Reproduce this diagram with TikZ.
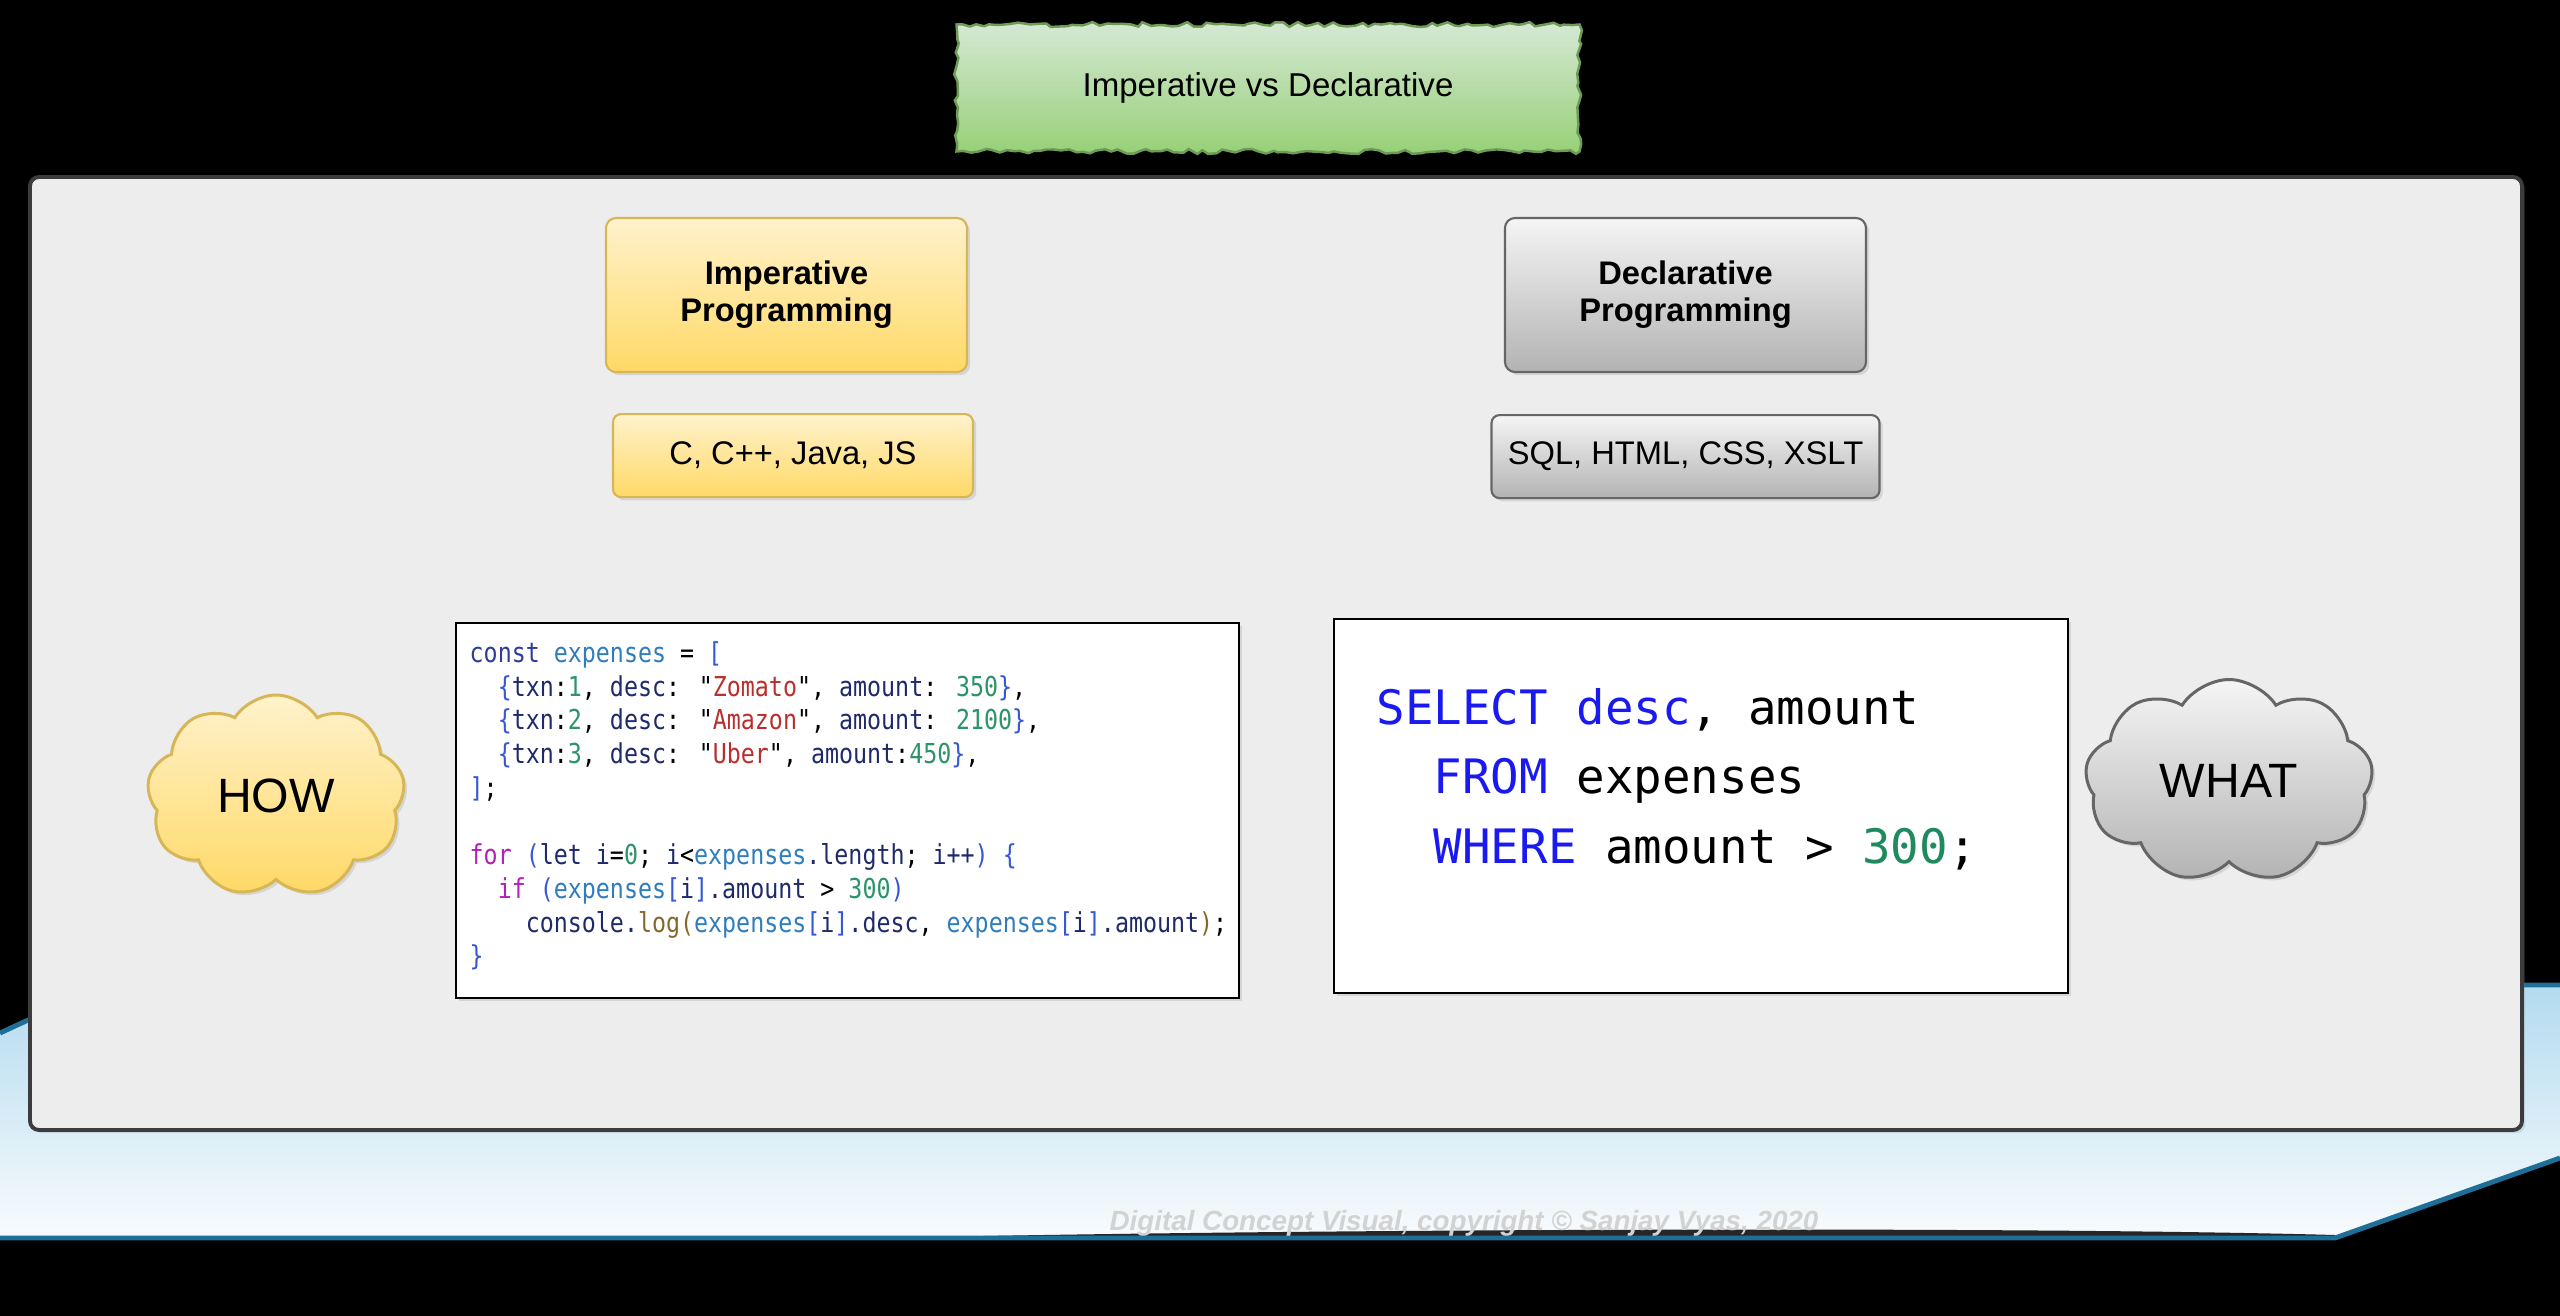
\documentclass[tikz,border=0pt]{standalone}
\usepackage{fontspec}
\setmainfont{Liberation Sans}
\newfontfamily\codefont{DejaVu Sans Mono}[FakeStretch=0.85]
\newfontfamily\sqlfont{DejaVu Sans Mono}
\usetikzlibrary{positioning,shapes.symbols,shadows,decorations.pathmorphing}

\definecolor{yelTop}{HTML}{FFF2CC}
\definecolor{yelBot}{HTML}{FFD966}
\definecolor{yelLine}{HTML}{D6B656}
\definecolor{gryTop}{HTML}{F5F5F5}
\definecolor{gryBot}{HTML}{B3B3B3}
\definecolor{gryLine}{HTML}{666666}
\definecolor{grnTop}{HTML}{D5E8D4}
\definecolor{grnBot}{HTML}{97D077}
\definecolor{grnLine}{HTML}{6E9B55}
\definecolor{panelFill}{HTML}{EDEDED}
\definecolor{panelLine}{HTML}{3C3C3E}
\definecolor{floorTop}{HTML}{B3DBEF}
\definecolor{floorBot}{HTML}{F8FBFD}
\definecolor{floorLine}{HTML}{1E6E98}
\definecolor{noteGray}{HTML}{D2D2D2}
% code colours
\definecolor{jsKey}{HTML}{B51FB9}
\definecolor{jsDecl}{HTML}{2E3C9C}
\definecolor{jsVar}{HTML}{2F7DBE}
\definecolor{jsId}{HTML}{1F2A6B}
\definecolor{jsBrk}{HTML}{3557D8}
\definecolor{jsStr}{HTML}{B8302E}
\definecolor{jsNum}{HTML}{2B9468}
\definecolor{jsFn}{HTML}{85692A}
\definecolor{sqlKey}{HTML}{1A1AF0}
\definecolor{sqlNum}{HTML}{1F8A5E}

\newcommand{\jkw}[1]{\textcolor{jsKey}{#1}}
\newcommand{\jdc}[1]{\textcolor{jsDecl}{#1}}
\newcommand{\jvar}[1]{\textcolor{jsVar}{#1}}
\newcommand{\jid}[1]{\textcolor{jsId}{#1}}
\newcommand{\jbr}[1]{\textcolor{jsBrk}{#1}}
\newcommand{\jstr}[1]{\textcolor{jsStr}{#1}}
\newcommand{\jnum}[1]{\textcolor{jsNum}{#1}}
\newcommand{\jfn}[1]{\textcolor{jsFn}{#1}}
\newcommand{\sqk}[1]{\textcolor{sqlKey}{#1}}
\newcommand{\sqn}[1]{\textcolor{sqlNum}{#1}}

\pgfmathsetseed{7}

\begin{document}
\begin{tikzpicture}[
  x=0.1mm, y=-0.1mm,
  banner/.style={draw=grnLine, line width=0.7pt, top color=grnTop, bottom color=grnBot,
                 decorate, decoration={random steps, segment length=2pt, amplitude=0.7pt},
                 minimum width=62.3mm, minimum height=12.7mm,
                 font=\fontsize{9.4}{11}\selectfont},
  yellowfill/.style={top color=yelTop, bottom color=yelBot, draw=yelLine},
  grayfill/.style={top color=gryTop, bottom color=gryBot, draw=gryLine},
  softshadow/.style={drop shadow={opacity=0.22, shadow xshift=0.9pt, shadow yshift=-0.9pt}},
  headbox/.style={softshadow, rounded corners=1mm, line width=0.6pt, align=center,
                  minimum width=36.1mm, minimum height=15.4mm,
                  font=\bfseries\fontsize{9.3}{10.6}\selectfont},
  langbox/.style={softshadow, rounded corners=0.8mm, line width=0.6pt,
                  minimum height=8.3mm, font=\fontsize{9.3}{11}\selectfont},
  codebox/.style={softshadow, draw=black, fill=white, line width=0.5pt},
  thought/.style={softshadow, cloud, cloud puffs=9, cloud puff arc=115, cloud ignores aspect,
                  line width=0.85pt, inner sep=0pt, font=\fontsize{13.7}{16}\selectfont},
  jstext/.style={anchor=north west, inner sep=0pt, align=left,
                 font={\codefont\fontsize{7.8}{9.6}\selectfont}},
  sqltext/.style={anchor=north west, inner sep=0pt, align=left,
                  font={\sqlfont\fontsize{13.5}{19.8}\selectfont}}]
\useasboundingbox (0,0) rectangle (2560,1316);
\fill[black] (0,0) rectangle (2560,1316);
% light blue floor behind the panel
\shade[top color=floorTop, bottom color=floorBot]
  (0,1033) -- (104,985) -- (2560,985) -- (2560,1158) -- (2335,1238) -- (0,1238) -- cycle;
\fill[black!85] (880,1238) .. controls (1300,1229) and (2000,1226) .. (2335,1235) -- (2335,1238) -- cycle;
\draw[floorLine, line width=1.4pt] (0,1033) -- (104,985) -- (2560,985);
\draw[floorLine, line width=1.4pt] (2560,1158) -- (2335,1238) -- (0,1238);
% main panel
\draw[softshadow, fill=panelFill, draw=panelLine, line width=1.1pt, rounded corners=0.9mm]
  (30,177) rectangle (2522,1130);

\node[banner] (title) at (1268,88) {Imperative vs Declarative};

\node[headbox, yellowfill] (imp) at (786.5,295) {Imperative\\Programming};
\node[langbox, yellowfill, minimum width=36mm, below=4mm of imp, xshift=0.65mm] (implang) {C, C++, Java, JS};
\node[headbox, grayfill] (decl) at (1685.5,295) {Declarative\\Programming};
\node[langbox, grayfill, minimum width=38.8mm, below=4.1mm of decl] (decllang) {SQL, HTML, CSS, XSLT};

\node[codebox, minimum width=78.3mm, minimum height=37.5mm] (jsbox) at (847.5,810.5) {};
\node[codebox, minimum width=73.4mm, minimum height=37.4mm] (sqlbox) at (1701,806) {};

\node[jstext] (jscode) at (469,638) {%
\strut\jdc{const} \jvar{expenses} = \jbr{[}\\
\phantom{xx}\jbr{\{}\jid{txn}:\jnum{1}, \jid{desc}: "\jstr{Zomato}", \jid{amount}: \jnum{350}\jbr{\}},\\
\phantom{xx}\jbr{\{}\jid{txn}:\jnum{2}, \jid{desc}: "\jstr{Amazon}", \jid{amount}: \jnum{2100}\jbr{\}},\\
\phantom{xx}\jbr{\{}\jid{txn}:\jnum{3}, \jid{desc}: "\jstr{Uber}", \jid{amount}:\jnum{450}\jbr{\}},\\
\jbr{]};\\[9.6pt]
\jkw{for} \jbr{(}\jid{let i}=\jnum{0}; \jid{i}<\jvar{expenses}\jid{.length}; \jid{i++}\jbr{)} \jbr{\{}\\
\phantom{xx}\jkw{if} \jbr{(}\jvar{expenses}\jbr{[}\jid{i}\jbr{]}\jid{.amount} > \jnum{300}\jbr{)}\\
\phantom{xxxx}\jid{console.}\jfn{log(}\jvar{expenses}\jbr{[}\jid{i}\jbr{]}\jid{.desc}, \jvar{expenses}\jbr{[}\jid{i}\jbr{]}\jid{.amount}\jfn{)};\\
\jbr{\}}};

\node[sqltext] (sqlcode) at (1376,675) {%
\strut\sqk{SELECT desc}, amount\\
\phantom{xx}\sqk{FROM} expenses\\
\phantom{xx}\sqk{WHERE} amount > \sqn{300};};

\node[thought, yellowfill, minimum width=25.8mm, minimum height=20.2mm] (how) at (276,796) {HOW};
\node[thought, grayfill, minimum width=28.8mm, minimum height=20.3mm] (what) at (2229,781) {WHAT};

\node[anchor=base, text=noteGray, font=\bfseries\itshape\fontsize{7.9}{9}\selectfont] (note)
  at (1464,1230) {Digital Concept Visual, copyright © Sanjay Vyas, 2020};
\end{tikzpicture}
\end{document}
